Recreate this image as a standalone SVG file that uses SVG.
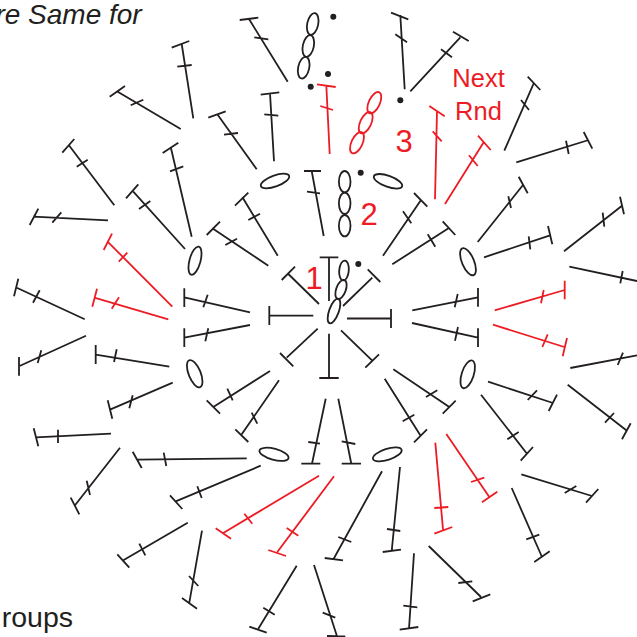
<svg xmlns="http://www.w3.org/2000/svg" width="637" height="637" viewBox="0 0 637 637">
<style>
.k{fill:none;stroke:#231f20;stroke-width:1.8}
.r{fill:none;stroke:#ed1c24;stroke-width:1.8}
.d{fill:#231f20;stroke:none}
.t{font-family:"Liberation Sans",Arial,sans-serif;fill:#231f20}
.n{font-family:"Liberation Sans",Arial,sans-serif;fill:#ed1c24;text-anchor:middle}
</style>
<rect width="637" height="637" fill="#fff"/>
<text class="t" x="141.7" y="23.5" font-size="28" font-style="italic" text-anchor="end">re Same for</text>
<text class="t" x="73" y="627" font-size="28.5" text-anchor="end">roups</text>
<g id="stitches-black" class="k">
<path d="M287.7 81.7L249 19M239.7 20L258.3 17.7M254.3 37.3L268.3 39.3"/>
<path d="M193.3 118.3L181.7 44M171.7 47.7L189.3 41M177.3 66.7L191.7 65"/>
<path d="M180.7 129L117.7 91.7M109.7 96.7L125 86M130.7 105.3L143.3 99.7"/>
<path d="M256.7 169.3L217.3 114.3M208.3 117.7L225.7 111.3M224 134.7L238 133"/>
<path d="M274 161.3L270 93.3M260.7 94.7L279.3 92.3M264.3 114.3L278.3 115.7"/>
<path d="M191.7 236.7L171 148.3M162.7 153L178.3 142.7M170 171.3L183.3 166.3"/>
<path d="M114.3 205.3L69.3 145.7M62.3 152.7L74.3 139M76.7 166.7L87.7 159.7"/>
<path d="M185 249L133.3 191.7M126 198.3L138.3 184.3M139 209L150.3 201"/>
<path d="M108 220.3L33.3 216.7M29.7 225L38.3 208.7M52.3 222.7L61.3 212.3"/>
<path d="M84.7 319.3L15.7 287.3M14 296.3L18.3 278.7M33 302.7L39.7 290.3"/>
<path d="M250 312.3L184.3 297.3M184.3 288.3L184.3 307M203.3 307.3L207.7 294.7"/>
<path d="M268.3 265.7L212.3 228.3M206.7 235L220 221.7M225.3 245L237 238.7"/>
<path d="M277.7 255.7L242.3 197M235 205.7L248.3 192.7M248.3 220L260 213.7"/>
<path d="M319 304L288.3 274M281.7 280L295 266.7"/>
<path d="M313.3 315.7L269.3 315.7M269.3 306L269.3 325"/>
<path d="M323.7 236L311.7 171M304 171L321 171M307 191.7L320 193.3"/>
<path d="M404.7 89.3L400.3 15M391 12.7L408.3 19.3M395.3 34.3L407 42.3"/>
<path d="M410.3 91.3L460.3 37.3M453 31.7L468.7 41M441 49.3L452 57.3"/>
<path d="M504.3 150.7L533.7 83.3M527.7 76.7L540.3 90M521 100L529 110"/>
<path d="M516.3 162.3L588.7 140M583.7 132L592.3 148.7M566 140.7L568.7 154"/>
<path d="M477.7 242L523 185M518.7 176.7L527.7 193.3M508.3 196.3L511 208"/>
<path d="M383 255.7L421 200M414 193L427.3 206.7M403 211.3L411.3 223.3"/>
<path d="M392.3 264.3L449.3 227.7M442.7 221.3L455.3 235M427.7 234.3L435.3 246.7"/>
<path d="M484 257.3L549.3 235.7M548 226L552.3 244.3M528.7 236.3L530.3 249.3"/>
<path d="M564 251.3L622 205.7M620 196.7L624 214.3M602.7 212.7L604.3 226.7"/>
<path d="M569.3 266.7L637 281M622.7 271L620.3 283.3"/>
<path d="M412.3 310.3L478 297.3M478 288L478 306.7M457.7 294L454.7 307.3"/>
<path d="M343 306L372.3 277.7M367.7 269.3L380.3 282"/>
<path d="M329 301L329 257.3M319.7 257.3L338.3 257.3"/>
<path d="M347 318.5L391 318.5M391 309L391 328"/>
<path d="M86 335.7L19 366.3M19 357L19 375.7M37.7 363L41.3 350.3"/>
<path d="M250 325L184.3 337.7M184.3 328.3L184.3 347M205.3 341.3L208.3 328.3"/>
<path d="M169.3 366.7L95.7 354.7M95.7 345L95.7 364M114 362L116.7 349.3"/>
<path d="M172.7 382.7L110 409.7M107.7 400.3L112.3 418.7M129.3 408.3L132.7 395.3"/>
<path d="M111 433.7L36 437.3M33.7 428.3L38.3 446.3M58 429.7L58 443"/>
<path d="M120 447.7L75 505.3M70.7 497.7L79.3 514.3M86.7 480.7L90 495"/>
<path d="M246.7 458.3L137.3 459.7M132.7 451.7L141.7 468M166.3 466L163.7 452.7"/>
<path d="M270 371L213.3 407M206.7 400.3L220 413.7M232.7 400.3L227.3 388.7"/>
<path d="M279 380.3L241.7 434.3M235.3 429.3L248.3 442M257.3 423.7L251.7 412.7"/>
<path d="M260.7 465.7L175.7 501.3M170 495.3L182.3 509M201.7 498L197.3 486.3"/>
<path d="M187.7 522.7L123.3 560.3M117.3 554.3L129.3 567.7M145.3 555.3L139.3 543.7"/>
<path d="M202 530.7L189.3 602.7M182 598L197 608.7M198.3 586L189 576"/>
<path d="M296.7 565.7L258.3 628.7M249.3 626.7L266.7 632.7M274.7 614.7L263.3 607.7"/>
<path d="M314 565L337 636.3M327 636L345.3 636.3M322.7 612.7L335.3 617.7"/>
<path d="M325.7 398.7L312 463.7M301.3 463.7L320.3 463.7M308.3 442L320 443.7"/>
<path d="M329 333.7L329 378M319.3 378L338.7 378"/>
<path d="M341 330.3L372 360.3M365.3 367.7L379 354.3"/>
<path d="M317.7 328.7L286.7 357.7M280 353L293.3 366.3"/>
<path d="M412 323L478 337.7M478 328.3L478 347M458 327L455 340.7"/>
<path d="M570.3 368L637 355.3M623 352.7L617.7 365"/>
<path d="M567.7 384.7L626.3 430.3M630.7 423.3L622 439.3M614 413L605 422.7"/>
<path d="M488 381.7L553 403M557 394.7L548.7 411M537 390.3L527.7 400"/>
<path d="M481 394.7L527 453.7M533 447L520.7 460.7M518.7 432L507.3 439.3"/>
<path d="M393.3 369.3L449.3 407M455.7 400.7L442.7 413.7M437.3 390.3L426 397"/>
<path d="M384.7 378.7L420.3 435.3M427 429.3L414 442.3M414.3 414.7L402.7 421.3"/>
<path d="M338.3 398.7L351.3 463.7M341.7 463.7L361 463.7M355.3 444L341.7 441.3"/>
<path d="M382 471.3L333.7 558.7M324.7 558L343 560.3M351.3 542L338.3 537"/>
<path d="M400 467L391.7 551M382.7 552L401 549.7M400.3 531L387 529"/>
<path d="M521.3 474.3L592 496M598.3 489L586 502.7M576.3 486L564.7 493"/>
<path d="M511.7 488L542 557M549.7 551.3L534.3 562M539.3 534.7L526.3 539.3"/>
<path d="M428.7 546L481 597M490.3 594.3L472.7 601.3M472.3 581.3L458.3 583"/>
<path d="M414 553.3L409 628.7M399.7 629.7L418.3 627M417.3 607.3L403.3 605.7"/>
</g>
<g id="stitches-red" class="r">
<path d="M172.3 306.7L108.3 242.3M103.7 250L112 233.7M118.7 261.7L127.3 252.7"/>
<path d="M168.3 319.3L94.3 297.7M92.3 306.7L97 288.7M111.7 308.7L119 297.3"/>
<path d="M329.7 154L326.3 85M317 84.3L335.7 87M320.3 106L333 110"/>
<path d="M435 199.3L437 111.7M429.3 106L444.7 116.3M432.7 131.3L441.7 141.3"/>
<path d="M445 204L484 141.7M478 135.7L490.7 150M469 155.3L477.7 166"/>
<path d="M494.7 310.3L564.7 290M564.7 280.7L564.7 299.3M543.7 290L541 303.3"/>
<path d="M493 324.7L564.3 347M567 338L562.7 356.3M547.7 334.3L542.3 347"/>
<path d="M319 475.7L223.3 533M215.7 528.3L231 538.7M252.3 523.7L244.3 513.7"/>
<path d="M334 476.3L277.3 552M268.3 550L286 556M298.3 535.7L286.7 528"/>
<path d="M435.3 442.7L443 529.3M434.3 533.7L452.3 527M448.3 507L434.3 508"/>
<path d="M446.3 434L489.3 497M497.3 491.7L482 502.3M484.3 477.7L471 482"/>
</g>
<g id="chains" class="k">
<ellipse cx="275" cy="181" rx="15" ry="5.5" transform="rotate(-20 275 181)"/>
<ellipse cx="195" cy="260.7" rx="14.5" ry="5.5" transform="rotate(-75 195 260.7)"/>
<ellipse cx="388" cy="181.3" rx="15" ry="5.5" transform="rotate(20 388 181.3)"/>
<ellipse cx="468" cy="261.7" rx="14.5" ry="6" transform="rotate(67 468 261.7)"/>
<ellipse cx="194.7" cy="373.7" rx="14.5" ry="6" transform="rotate(68 194.7 373.7)"/>
<ellipse cx="467.7" cy="374.3" rx="14.5" ry="6" transform="rotate(-72 467.7 374.3)"/>
<ellipse cx="274" cy="454.3" rx="15" ry="5.5" transform="rotate(15 274 454.3)"/>
<ellipse cx="387.3" cy="454.3" rx="15" ry="5.5" transform="rotate(-18 387.3 454.3)"/>
<ellipse cx="312.7" cy="24" rx="11" ry="5.5" transform="rotate(-78 312.7 24)"/>
<ellipse cx="308.3" cy="46" rx="11" ry="5.5" transform="rotate(-78 308.3 46)"/>
<ellipse cx="303.7" cy="67.7" rx="11" ry="5.5" transform="rotate(-78 303.7 67.7)"/>
<ellipse cx="344.7" cy="181.7" rx="5.8" ry="10.7"/>
<ellipse cx="344.7" cy="203.3" rx="5.8" ry="10.7"/>
<ellipse cx="344.7" cy="225.7" rx="5.8" ry="10.7"/>
<ellipse cx="344" cy="270.5" rx="10" ry="4.8" transform="rotate(-85 344 270.5)"/>
<ellipse cx="341" cy="289.5" rx="10" ry="4.8" transform="rotate(-70 341 289.5)"/>
<ellipse cx="334" cy="311" rx="13" ry="4.8" transform="rotate(-70 334 311)"/>
</g>
<g id="chain-red" class="r">
<ellipse cx="374.3" cy="102.7" rx="11.5" ry="5.5" transform="rotate(-65 374.3 102.7)"/>
<ellipse cx="365.7" cy="122.7" rx="11.5" ry="5.5" transform="rotate(-65 365.7 122.7)"/>
<ellipse cx="357" cy="142.7" rx="11.5" ry="5.5" transform="rotate(-65 357 142.7)"/>
</g>
<g id="dots">
<circle class="d" cx="333.3" cy="16.7" r="3"/>
<circle class="d" cx="310.7" cy="86.7" r="3"/>
<circle class="d" cx="328" cy="74" r="3"/>
<circle class="d" cx="400.3" cy="100.3" r="3"/>
<circle class="d" cx="360.7" cy="172.7" r="3"/>
<circle class="d" cx="358.3" cy="264" r="3"/>
</g>
<g id="labels">
<text class="n" x="314" y="288.5" font-size="31">1</text>
<text class="n" x="369" y="225" font-size="31">2</text>
<text class="n" x="404" y="151.7" font-size="31">3</text>
<text class="n" x="478.5" y="87.3" font-size="25.5">Next</text>
<text class="n" x="478.5" y="120" font-size="25.5">Rnd</text>
</g>
</svg>
